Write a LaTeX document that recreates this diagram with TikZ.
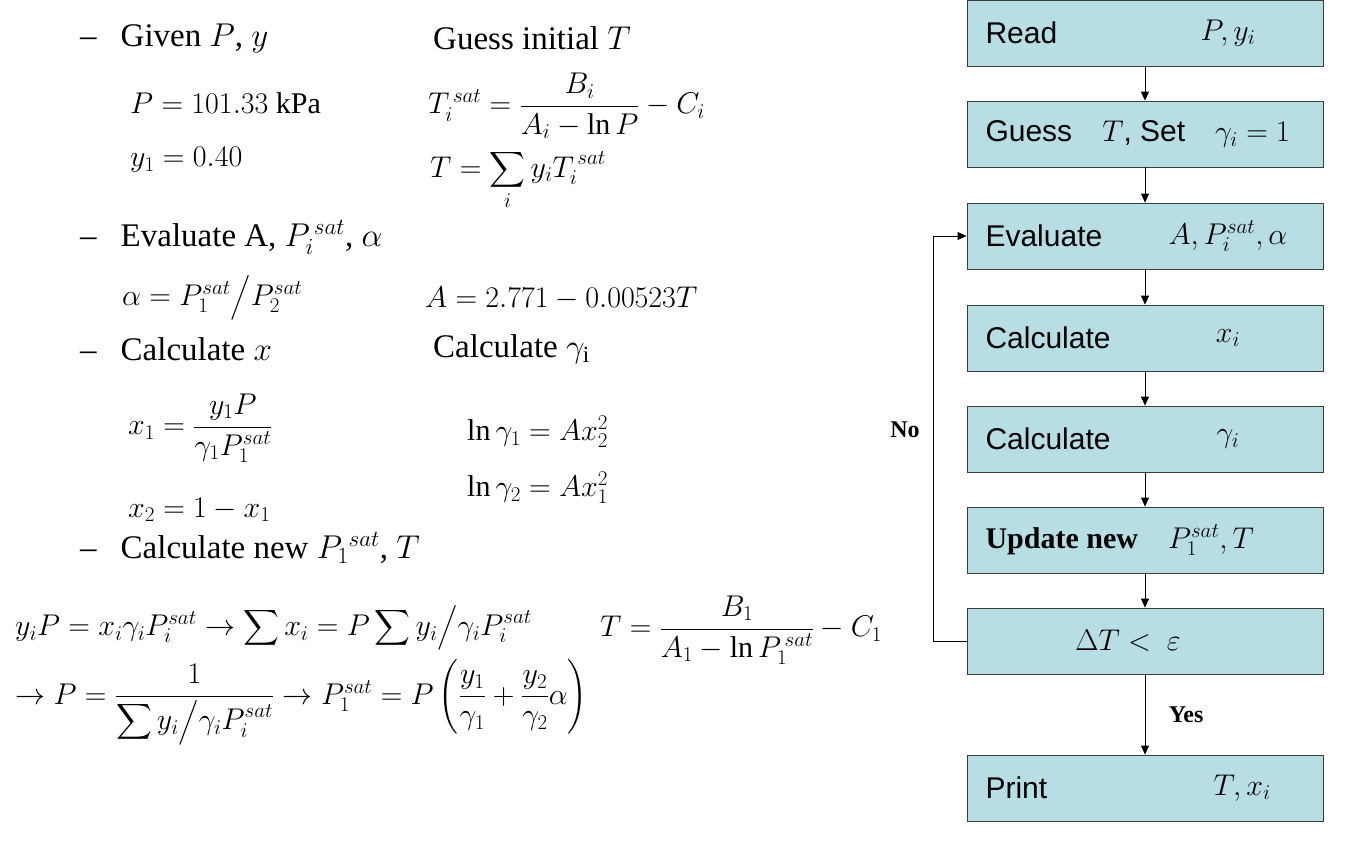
\RequirePackage{fix-cm}
\documentclass[tikz,border=0pt]{standalone}
\usepackage{amsmath}
\usepackage{fontspec}
\setmainfont{Liberation Serif}
\newfontfamily\boxfont{Liberation Sans}
\usetikzlibrary{arrows.meta}
\definecolor{boxfill}{RGB}{183,222,226}
\definecolor{boxline}{RGB}{60,60,60}
\tikzset{
  fbox/.style={draw=boxline,fill=boxfill,line width=0.8pt,minimum width=356pt,minimum height=66pt,inner sep=0pt},
  flow/.style={draw=black,line width=0.8pt,-{Triangle[length=9pt,width=8pt]}},
  txt/.style={anchor=west,inner sep=0pt,font=\fontsize{33}{38}\selectfont},
  eq/.style={anchor=west,inner sep=0pt,font=\fontsize{30}{34}\selectfont},
  btxt/.style={font=\fontsize{30}{34}\selectfont},
  lbl/.style={font=\fontsize{24}{28}\selectfont\bfseries}
}
\begin{document}
\begin{tikzpicture}[x=1pt,y=-1pt]
\useasboundingbox (0,0) rectangle (1359,849);
% left column
\node[txt] (d1) at (80,38) {--\hspace{24pt}Given $P$, $y$};
\node[txt] (g1) at (433,38) {Guess initial $T$};
\node[eq] (e1) at (130,103) {$P = 101.33$ kPa};
\node[eq] (e2) at (428,106) {$T_i^{\,sat} = \dfrac{B_i}{A_i - \ln P} - C_i$};
\node[eq] (e3) at (130,160) {$y_1 = 0.40$};
\node[eq] (e4) at (430,180) {$T = \displaystyle\sum_i y_i T_i^{\,sat}$};
\node[txt] (d2) at (80,237) {--\hspace{24pt}Evaluate A, $P_i^{\,sat}$, $\alpha$};
\node[eq] (e5) at (122,298) {$\alpha = P_1^{sat}\big/P_2^{sat}$};
\node[eq] (e6) at (425,298) {$A = 2.771 - 0.00523T$};
\node[txt] (d3) at (80,349) {--\hspace{24pt}Calculate $x$};
\node[txt] (g3) at (433,349) {Calculate $\gamma_{\mathrm{i}}$};
\node[eq] (e7) at (128,428) {$x_1 = \dfrac{y_1 P}{\gamma_1 P_1^{sat}}$};
\node[eq] (e8) at (467,432) {$\ln\gamma_1 = A x_2^2$};
\node[eq] (e9) at (467,488) {$\ln\gamma_2 = A x_1^2$};
\node[eq] (e10) at (128,510) {$x_2 = 1 - x_1$};
\node[txt] (d4) at (80,548) {--\hspace{24pt}Calculate new $P_1{}^{sat}$, $T$};
\node[eq] (e11) at (15,628) {$y_i P = x_i\gamma_i P_i^{sat} \rightarrow \displaystyle\sum x_i = P\sum y_i\big/\gamma_i P_i^{sat}$};
\node[eq] (e12) at (600,630) {$T = \dfrac{B_1}{A_1 - \ln P_1^{\,sat}} - C_1$};
\node[eq] (e13) at (15,702) {$\rightarrow P = \dfrac{1}{\displaystyle\sum y_i\big/\gamma_i P_i^{sat}} \rightarrow P_1^{sat} = P\left(\dfrac{y_1}{\gamma_1} + \dfrac{y_2}{\gamma_2}\alpha\right)$};
% flowchart
\node[fbox] (b1) at (1145,33) {};
\node[btxt,anchor=west] at (982,33) {\boxfont Read};
\node[btxt] at (1228,33) {$P, y_i$};
\node[fbox] (b2) at (1145,134) {};
\node[btxt,anchor=west] at (982,134) {\boxfont Guess\quad $T$, Set\quad $\gamma_i = 1$};
\node[fbox] (b3) at (1145,236) {};
\node[btxt,anchor=west] at (982,236) {\boxfont Evaluate};
\node[btxt] at (1228,236) {$A, P_i^{sat}, \alpha$};
\node[fbox] (b4) at (1145,338) {};
\node[btxt,anchor=west] at (982,338) {\boxfont Calculate};
\node[btxt] at (1228,338) {$x_i$};
\node[fbox] (b5) at (1145,439) {};
\node[btxt,anchor=west] at (982,439) {\boxfont Calculate};
\node[btxt] at (1228,439) {$\gamma_i$};
\node[fbox] (b6) at (1145,540) {};
\node[btxt,anchor=west] at (982,540) {\bfseries Update new\quad $P_1^{sat}, T$};
\node[fbox] (b7) at (1145,641) {};
\node[btxt] at (1128,641) {$\Delta T <\ \varepsilon$};
\node[fbox] (b8) at (1145,788) {};
\node[btxt,anchor=west] at (982,788) {\boxfont Print};
\node[btxt] at (1242,788) {$T, x_i$};
\draw[flow] (b1) -- (b2);
\draw[flow] (b2) -- (b3);
\draw[flow] (b3) -- (b4);
\draw[flow] (b4) -- (b5);
\draw[flow] (b5) -- (b6);
\draw[flow] (b6) -- (b7);
\draw[flow] (b7) -- node[lbl,right=20pt] {Yes} (b8);
\draw[flow] (b7.west) -- ++(-33,0) |- (b3.west);
\node[lbl] (no) at (905,430) {No};
\end{tikzpicture}
\end{document}
